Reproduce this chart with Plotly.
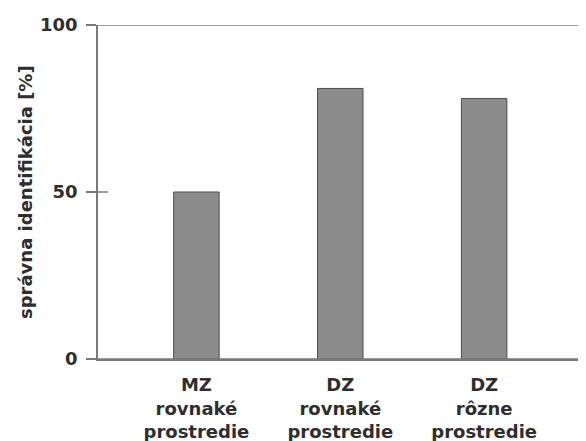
import plotly.graph_objects as go

categories = ["MZ<br>rovnaké<br>prostredie", "DZ<br>rovnaké<br>prostredie", "DZ<br>rôzne<br>prostredie"]
values = [50, 81, 78]
y_ticks = [0, 50, 100]

FONT = "DejaVu Sans"
TXT = "#2e2e2e"
AX = "#7a7a7a"

fig = go.Figure()
fig.add_trace(go.Bar(
    x=list(range(len(categories))), y=values, width=0.316,
    marker=dict(color="#8c8c8c", line=dict(color="#4d4d4d", width=1)),
))

fig.update_layout(
    width=610, height=441,
    margin=dict(l=90, r=32, t=17, b=90),
    paper_bgcolor="white", plot_bgcolor="white",
    showlegend=False,
    font=dict(family=FONT, color=TXT),
    xaxis=dict(
        range=[-0.684, 2.708], tickmode="array",
        tickvals=list(range(len(categories))), ticktext=categories,
        showline=True, linecolor=AX, linewidth=1.5, ticks="",
        showgrid=False, zeroline=False, automargin=False,
        ticklabelstandoff=9,
        tickfont=dict(family=FONT, size=18, weight="bold", color=TXT),
    ),
    yaxis=dict(
        range=[0, 100], tickmode="array", tickvals=y_ticks,
        showline=True, linecolor=AX, linewidth=1.5,
        ticks="outside", ticklen=10, tickwidth=1.5, tickcolor=AX,
        showgrid=False, zeroline=False, automargin=False,
        ticklabelstandoff=5,
        tickfont=dict(family=FONT, size=18, weight="bold", color=TXT),
    ),
    shapes=[
        dict(type="line", xref="paper", yref="y", xsizemode="pixel", xanchor=0,
             x0=0, x1=600, y0=100, y1=100, line=dict(color=AX, width=1.5)),
        dict(type="line", xref="paper", yref="y", xsizemode="pixel", xanchor=0,
             x0=0, x1=600, y0=0, y1=0, line=dict(color=AX, width=1.5)),
        dict(type="line", xref="paper", yref="y", xsizemode="pixel", xanchor=0,
             x0=0, x1=10, y0=50, y1=50, line=dict(color=AX, width=1.5)),
    ],
    annotations=[
        dict(text="správna identifikácia [%]", xref="paper", yref="paper",
             x=0, y=0.5, xanchor="center", yanchor="middle", xshift=-73,
             textangle=-90, showarrow=False,
             font=dict(family=FONT, size=18, weight="bold", color=TXT)),
    ],
)

fig.write_html("out.html")
